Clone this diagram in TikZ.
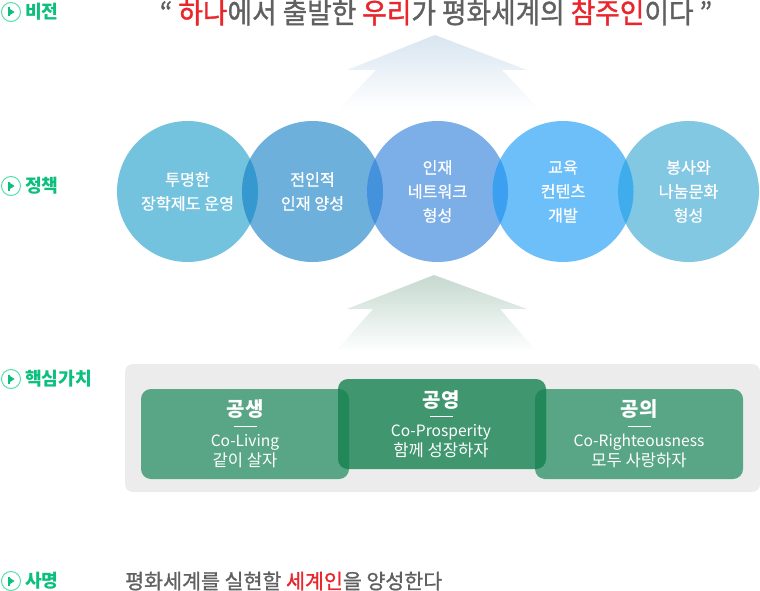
\documentclass[tikz,border=0pt]{standalone}
\usepackage{fontspec}
\setmainfont{Noto Sans CJK KR}
\newfontfamily\titlefont[FakeStretch=0.94,FakeBold=1.2]{Noto Sans CJK KR}
\newfontfamily\semifont[FakeBold=1.2]{Noto Sans CJK KR}
\newfontfamily\softfont[FakeBold=0.6]{Noto Sans CJK KR}
\definecolor{lbl}{HTML}{0CBF7C}
\definecolor{ringc}{HTML}{55DDB0}
\definecolor{redt}{HTML}{E8262C}
\definecolor{grayt}{HTML}{606060}
\definecolor{ca}{HTML}{74C3DE}
\definecolor{cb}{HTML}{6DB0DB}
\definecolor{cc}{HTML}{7CAEE8}
\definecolor{cd}{HTML}{6DBFFA}
\definecolor{ce}{HTML}{82C8E2}
\definecolor{lab}{HTML}{3598CE}
\definecolor{lbc}{HTML}{4492DC}
\definecolor{lcd}{HTML}{3C9FF0}
\definecolor{lde}{HTML}{3FACEC}
\definecolor{sideg}{HTML}{58A685}
\definecolor{midg}{HTML}{40966F}
\definecolor{overg}{HTML}{22885A}
\definecolor{panel}{HTML}{ECECEC}
\definecolor{upa}{HTML}{D8E5F0}
\definecolor{upb}{HTML}{C5D9D0}
\tikzset{
  x=1pt,y=-1pt,
  bub/.style={circle,minimum size=141pt,inner sep=0pt,text=white,align=center,font=\softfont\fontsize{16.2}{24}\selectfont},
  rowlabel/.style={anchor=west,inner sep=0pt,text=lbl,font=\fontsize{18.2}{20}\selectfont\bfseries},
  ring/.style={circle,draw=ringc,line width=1pt,minimum size=19pt,inner sep=0pt},
  val/.style={rounded corners=10pt},
  vhead/.style={inner sep=0pt,text=white,font=\fontsize{20}{24}\selectfont\bfseries},
  vtext/.style={inner sep=0pt,text=white,align=center,font=\fontsize{15.6}{20}\selectfont},
  vrule/.style={draw=white,line width=0.8pt},
}
\newcommand{\hang}[1]{{\fontsize{16.6}{20}\selectfont #1}}
\newcommand{\playmark}[1]{%
  \fill[lbl] ($(#1.center)+(-2.6,-4.5)$) rectangle ($(#1.center)+(-1.4,4.5)$);
  \fill[lbl] ($(#1.center)+(-1.4,-3.2)$) -- ($(#1.center)+(3.6,0)$) -- ($(#1.center)+(-1.4,3.2)$) -- cycle;}
\newcommand{\lens}[3]{%
  \begin{scope}\clip (#1.center) circle (70.5);
  \fill[#3] (#2.center) circle (70.5);\end{scope}}
\usetikzlibrary{calc}
\begin{document}
\begin{tikzpicture}
\useasboundingbox (0,0) rectangle (760,591);
% rows
\node[ring] (r1) at (11,12) {};
\node[ring] (r2) at (11,186) {};
\node[ring] (r3) at (11,379) {};
\node[ring] (r4) at (11,581) {};
\playmark{r1}\playmark{r2}\playmark{r3}\playmark{r4}
\node[rowlabel] (l1) at (25,12) {비전};
\node[rowlabel] (l2) at (25,186) {정책};
\node[rowlabel] (l3) at (25,379) {핵심가치};
\node[rowlabel] (l4) at (25,581) {사명};
% title
\node[inner sep=0pt,text=grayt,font=\titlefont\fontsize{28.4}{32}\selectfont] (title) at (436,12.5)
 {“ \textcolor{redt}{하나}에서 출발한 \textcolor{redt}{우리}가 평화세계의 \textcolor{redt}{참주인}이다 ”};
% arrows
\shade[top color=upa,middle color=upa,bottom color=white] (435,35) -- (527,70) -- (502,70) -- (540,110) -- (338,110) -- (376,70) -- (347,70) -- cycle;
\shade[top color=upb,middle color=upb,bottom color=white] (434,275) -- (527,309) -- (500,309) -- (537,352) -- (335,352) -- (373,309) -- (347,309) -- cycle;
% circles
\node[bub,fill=ca] (a) at (187.5,191.5) {투명한\\장학제도 운영};
\node[bub,fill=cb] (b) at (312.5,191.5) {전인적\\인재 양성};
\node[bub,fill=cc] (c) at (437.5,191.5) {인재\\네트워크\\형성};
\node[bub,fill=cd] (d) at (563,191.5) {교육\\컨텐츠\\개발};
\node[bub,fill=ce] (e) at (688.5,191.5) {봉사와\\나눔문화\\형성};
\lens{a}{b}{lab}\lens{b}{c}{lbc}\lens{c}{d}{lcd}\lens{d}{e}{lde}
% panel
\fill[panel,rounded corners=8pt] (125,364) rectangle (760,492);
\fill[sideg,val] (141,389) rectangle (349,479);
\fill[sideg,val] (535,389) rectangle (743,479);
\fill[midg,val] (338,379) rectangle (546,469);
\begin{scope}\clip[val] (141,389) rectangle (349,479);\fill[overg,val] (338,379) rectangle (546,469);\end{scope}
\begin{scope}\clip[val] (535,389) rectangle (743,479);\fill[overg,val] (338,379) rectangle (546,469);\end{scope}
\node[vhead] (h1) at (245,409) {공생};
\node[vhead] (h2) at (441,400) {공영};
\node[vhead] (h3) at (639,409) {공의};
\coordinate (u1) at (245,426);
\coordinate (u2) at (441,416);
\coordinate (u3) at (639,426);
\draw[vrule] ($(u1)+(-11.5,0)$) -- ($(u1)+(11.5,0)$);
\draw[vrule] ($(u2)+(-11.5,0)$) -- ($(u2)+(11.5,0)$);
\draw[vrule] ($(u3)+(-11.5,0)$) -- ($(u3)+(11.5,0)$);
\node[vtext] (t1) at (245,451) {Co-Living\\\hang{같이 살자}};
\node[vtext] (t2) at (441,441) {Co-Prosperity\\\hang{함께 성장하자}};
\node[vtext] (t3) at (639,451) {Co-Righteousness\\\hang{모두 사랑하자}};
% mission
\node[anchor=west,inner sep=0pt,text=grayt,font=\semifont\fontsize{20.6}{24}\selectfont] (m) at (125,581)
 {평화세계를 실현할 \textcolor{redt}{세계인}을 양성한다};
\end{tikzpicture}
\end{document}
